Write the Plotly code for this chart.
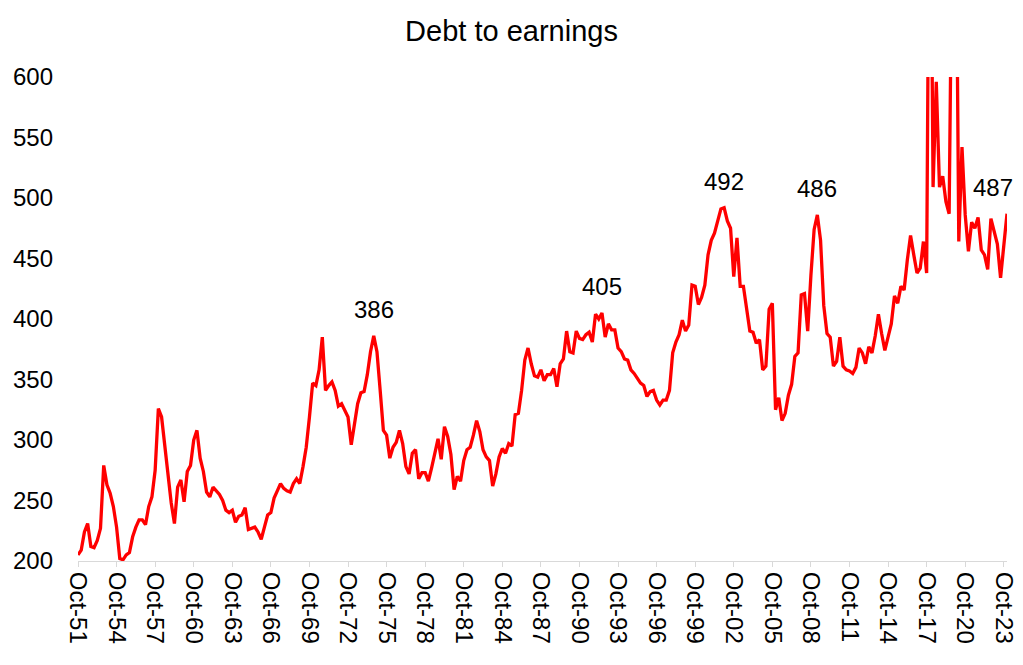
import pandas as pd
import plotly.graph_objects as go

# Quarterly debt-to-earnings values, Oct-51 .. Jan-24
vals_1951_1959 = [205, 209, 224, 231, 212, 211, 217, 227, 279, 263, 256, 245,
                  228, 202, 201, 205, 207, 220, 228, 234, 234, 230, 245, 253,
                  275, 326, 319, 294, 272, 248, 231, 261, 267, 249, 274, 279]
vals_1960_1971 = [300, 308, 285, 274, 257, 253, 261, 258, 255, 250, 242, 240,
                  242, 232, 237, 238, 244, 226, 227, 228, 224, 218, 228, 238,
                  240, 252, 258, 264, 260, 258, 257, 264, 268, 264, 278, 294,
                  319, 347, 345, 358, 385, 341, 345, 348, 341, 328, 330, 325]
vals_1972_1983 = [319, 296, 314, 330, 339, 340, 354, 373, 386, 373, 341, 308,
                  304, 285, 294, 298, 308, 297, 278, 272, 289, 292, 268, 273,
                  273, 266, 277, 289, 301, 284, 311, 303, 288, 259, 270, 266,
                  283, 292, 294, 304, 316, 307, 292, 286, 283, 262, 272, 286]
vals_1984_1995 = [293, 289, 297, 295, 321, 322, 341, 366, 376, 363, 353, 352,
                  358, 349, 354, 354, 359, 344, 363, 367, 390, 373, 372, 390,
                  384, 383, 387, 389, 381, 404, 400, 405, 385, 396, 391, 391,
                  376, 373, 367, 366, 358, 355, 351, 347, 345, 336, 340, 341]
vals_1996_2007 = [333, 329, 333, 333, 341, 372, 381, 387, 399, 390, 395, 428,
                  427, 412, 418, 428, 453, 465, 471, 480, 491, 492, 481, 475,
                  435, 467, 427, 427, 410, 390, 389, 380, 383, 358, 361, 408,
                  413, 325, 335, 316, 322, 337, 346, 369, 372, 420, 421, 390]
vals_2008_2019 = [436, 474, 486, 465, 411, 388, 385, 361, 365, 385, 361, 358,
                  357, 355, 360, 376, 372, 363, 377, 372, 386, 404, 388, 374,
                  385, 396, 419, 413, 427, 424, 449, 469, 453, 438, 442, 464,
                  438, 850, 509, 596, 509, 518, 497, 487, 750, 800, 464, 542]
vals_2020_2024 = [486, 456, 480, 475, 484, 457, 453, 441, 483, 473, 462, 434,
                  461, 487]

values = (vals_1951_1959 + vals_1960_1971 + vals_1972_1983 + vals_1984_1995
          + vals_1996_2007 + vals_2008_2019 + vals_2020_2024)

quarters = [d.strftime("%b-%y") for d in
            pd.date_range("1951-10-01", periods=len(values), freq="QS-OCT")]

tick_labels = ["Oct-51", "Oct-54", "Oct-57", "Oct-60", "Oct-63", "Oct-66",
               "Oct-69", "Oct-72", "Oct-75", "Oct-78", "Oct-81", "Oct-84",
               "Oct-87", "Oct-90", "Oct-93", "Oct-96", "Oct-99", "Oct-02",
               "Oct-05", "Oct-08", "Oct-11", "Oct-14", "Oct-17", "Oct-20",
               "Oct-23"]
y_ticks = [200, 250, 300, 350, 400, 450, 500, 550, 600]

# labelled peaks
peak_quarters = ["Oct-74", "Jul-92", "Jan-02", "Apr-09", "Jan-24"]

FONT = "Liberation Sans"
W, H = 1007, 649   # page body has an 8px margin

fig = go.Figure()
fig.add_trace(go.Scatter(
    x=quarters, y=values, mode="lines",
    line=dict(color="#FF0000", width=3.3),
    hoverinfo="x+y", showlegend=False,
))

for q in peak_quarters:
    v = values[quarters.index(q)]
    fig.add_annotation(
        x=q, y=v, text=str(v), showarrow=False,
        yshift=26, xshift=(-14 if q == quarters[-1] else 0),
        font=dict(family=FONT, size=24, color="black"),
        yanchor="middle",
    )

fig.update_layout(
    width=W, height=H,
    paper_bgcolor="white", plot_bgcolor="white",
    margin=dict(l=70, r=8, t=69, b=96),
    font=dict(family=FONT, color="black"),
    title=dict(text="Debt to earnings", x=0.5, xref="container",
               y=1 - 23 / H, yref="container", yanchor="middle",
               xanchor="center",
               font=dict(family=FONT, size=29, color="black")),
    xaxis=dict(
        type="category", range=[0, len(values) - 1], automargin=False,
        tickmode="array", tickvals=tick_labels, ticktext=tick_labels,
        tickangle=90, tickfont=dict(family=FONT, size=24, color="black"),
        ticks="outside", ticklen=5, tickcolor="#D9D9D9", tickwidth=1,
        showline=True, linecolor="#D9D9D9", linewidth=1,
        showgrid=False, zeroline=False,
    ),
    yaxis=dict(
        range=[200, 600], tickmode="array", tickvals=y_ticks, automargin=False,
        tickfont=dict(family=FONT, size=24, color="black"),
        showgrid=False, zeroline=False, showline=False,
        ticklabelstandoff=24,
    ),
)

fig.write_html("out.html")
